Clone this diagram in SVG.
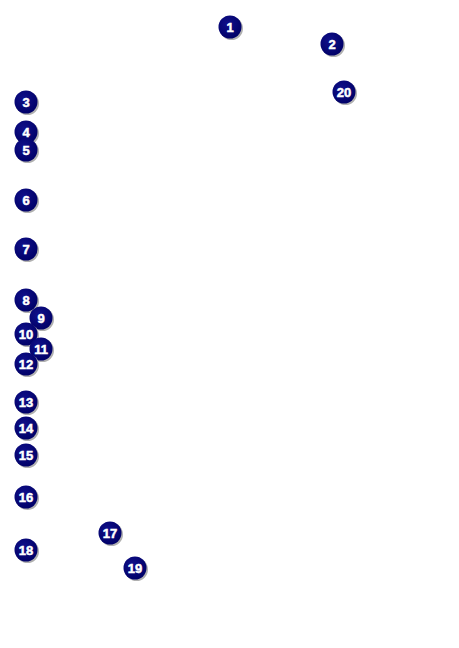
<svg xmlns="http://www.w3.org/2000/svg" width="459" height="648" viewBox="0 0 459 648">
<defs>
<radialGradient id="g" cx="0.4" cy="0.35" r="0.7">
<stop offset="0" stop-color="#10108a"/>
<stop offset="1" stop-color="#000066"/>
</radialGradient>
<g id="b">
<circle cx="1.5" cy="1.5" r="11.5" fill="#b0b0b0"/>
<circle cx="0" cy="0" r="11.5" fill="url(#g)"/>
</g>
</defs>
<style>
text{font-family:"Liberation Sans",Arial,sans-serif;font-weight:bold;font-size:13px;fill:#fff;stroke:#fff;stroke-width:0.5;text-anchor:middle}
</style>
<rect width="459" height="648" fill="#fff"/>
<g id="n1" transform="translate(230,27)"><use href="#b"/><text y="5">1</text></g>
<g id="n2" transform="translate(332,44)"><use href="#b"/><text y="5">2</text></g>
<g id="n20" transform="translate(344,92)"><use href="#b"/><text y="5">20</text></g>
<g id="n3" transform="translate(26,102)"><use href="#b"/><text y="5">3</text></g>
<g id="n4" transform="translate(26,132)"><use href="#b"/><text y="5">4</text></g>
<g id="n5" transform="translate(26,150)"><use href="#b"/><text y="5">5</text></g>
<g id="n6" transform="translate(26,200)"><use href="#b"/><text y="5">6</text></g>
<g id="n7" transform="translate(26,249)"><use href="#b"/><text y="5">7</text></g>
<g id="n8" transform="translate(26,300)"><use href="#b"/><text y="5">8</text></g>
<g id="n9" transform="translate(41,318)"><use href="#b"/><text y="5">9</text></g>
<g id="n10" transform="translate(26,334)"><use href="#b"/><text y="5">10</text></g>
<g id="n11" transform="translate(41,349)"><use href="#b"/><text y="5">11</text></g>
<g id="n12" transform="translate(26,364)"><use href="#b"/><text y="5">12</text></g>
<g id="n13" transform="translate(26,402)"><use href="#b"/><text y="5">13</text></g>
<g id="n14" transform="translate(26,428)"><use href="#b"/><text y="5">14</text></g>
<g id="n15" transform="translate(26,455)"><use href="#b"/><text y="5">15</text></g>
<g id="n16" transform="translate(26,497)"><use href="#b"/><text y="5">16</text></g>
<g id="n17" transform="translate(110,533)"><use href="#b"/><text y="5">17</text></g>
<g id="n18" transform="translate(26,550)"><use href="#b"/><text y="5">18</text></g>
<g id="n19" transform="translate(135,568)"><use href="#b"/><text y="5">19</text></g>
<g id="connectors"/>
</svg>
